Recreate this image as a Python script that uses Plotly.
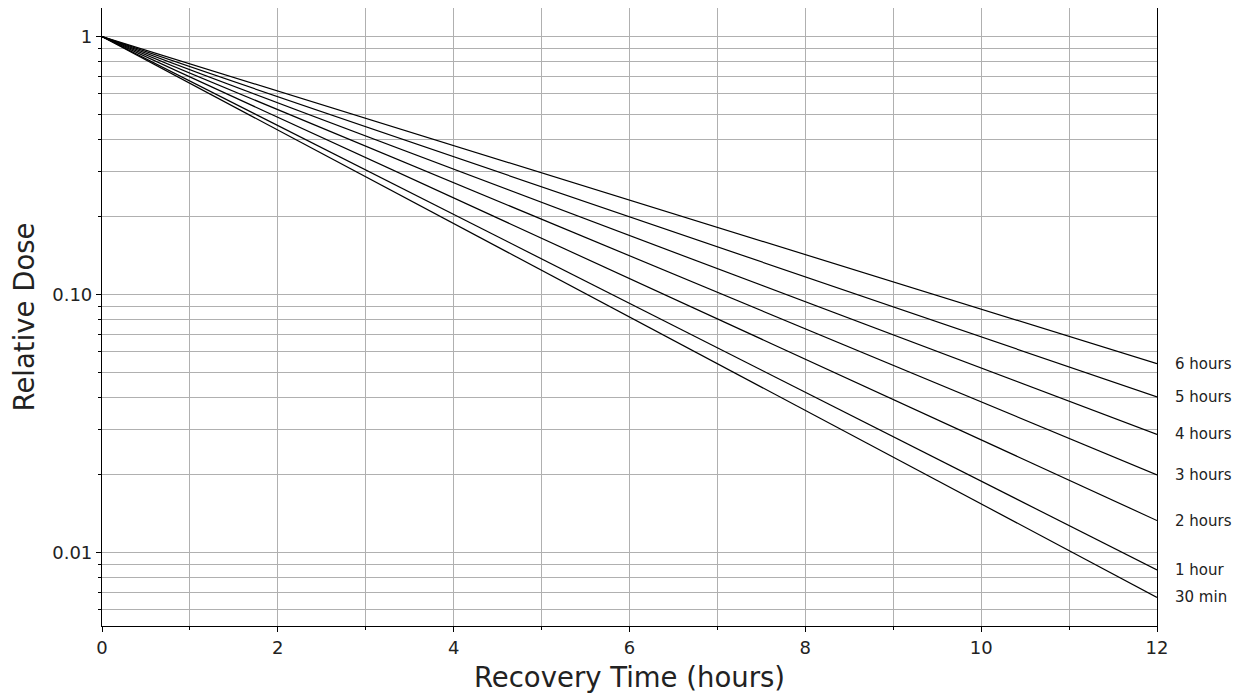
import math
import plotly.graph_objects as go

# Data
labels = ["6 hours", "5 hours", "4 hours", "3 hours", "2 hours", "1 hour", "30 min"]
start_time = 0
end_time = 12
start_dose = 1.0
end_doses = [0.0540, 0.0401, 0.0287, 0.0200, 0.0133, 0.00855, 0.0067]

x_ticks = [0, 2, 4, 6, 8, 10, 12]
x_minor = [1, 3, 5, 7, 9, 11]
y_ticks = [0.01, 0.1, 1]
y_ticktext = ["0.01", "0.10", "1"]
y_minor = [d * m for d in (0.001, 0.01, 0.1) for m in range(2, 10)]

FONT = "DejaVu Sans"

fig = go.Figure()
for lab, v in zip(labels, end_doses):
    fig.add_trace(go.Scatter(x=[start_time, end_time], y=[start_dose, v], mode="lines",
                             line=dict(color="black", width=1.2), name=lab, showlegend=False))

for lab, v in zip(labels, end_doses):
    fig.add_annotation(x=1, xref="paper", y=math.log10(v), yref="y", text=lab,
                       showarrow=False, xanchor="left", xshift=16,
                       font=dict(family=FONT, size=15, color="#222222"))

grid_color = "#b0b0b0"
fig.update_layout(
    width=1241, height=696,
    margin=dict(l=94, r=92, t=0, b=78),
    plot_bgcolor="white", paper_bgcolor="white",
    font=dict(family=FONT, color="black"),
    xaxis=dict(range=[0, 12], tickvals=x_ticks, showgrid=True, gridcolor=grid_color, gridwidth=1,
               ticks="outside", ticklen=5, tickcolor="black",
               tickfont=dict(family=FONT, size=18, color="#222222"),
               showline=True, linecolor="black", linewidth=1.2, mirror=True, zeroline=False,
               minor=dict(tickvals=x_minor, showgrid=True, gridcolor=grid_color, gridwidth=1,
                          ticks="outside", ticklen=3, tickcolor="black"),
               title=dict(text="Recovery Time (hours)", font=dict(family=FONT, size=27.5, color="#222222"),
                          standoff=11)),
    yaxis=dict(type="log", range=[-2.285, 0.111], tickvals=y_ticks, ticktext=y_ticktext,
               showgrid=True, gridcolor=grid_color, gridwidth=1,
               ticks="outside", ticklen=5, tickcolor="black",
               tickfont=dict(family=FONT, size=18, color="#222222"),
               showline=True, linecolor="black", linewidth=1.2, mirror=True, zeroline=False,
               minor=dict(tickvals=y_minor, showgrid=True, gridcolor=grid_color, gridwidth=1,
                          ticks="outside", ticklen=3, tickcolor="black"),
               title=dict(text="Relative Dose", font=dict(family=FONT, size=27.5, color="#222222"),
                          standoff=11)),
)
fig.write_html("out.html")
